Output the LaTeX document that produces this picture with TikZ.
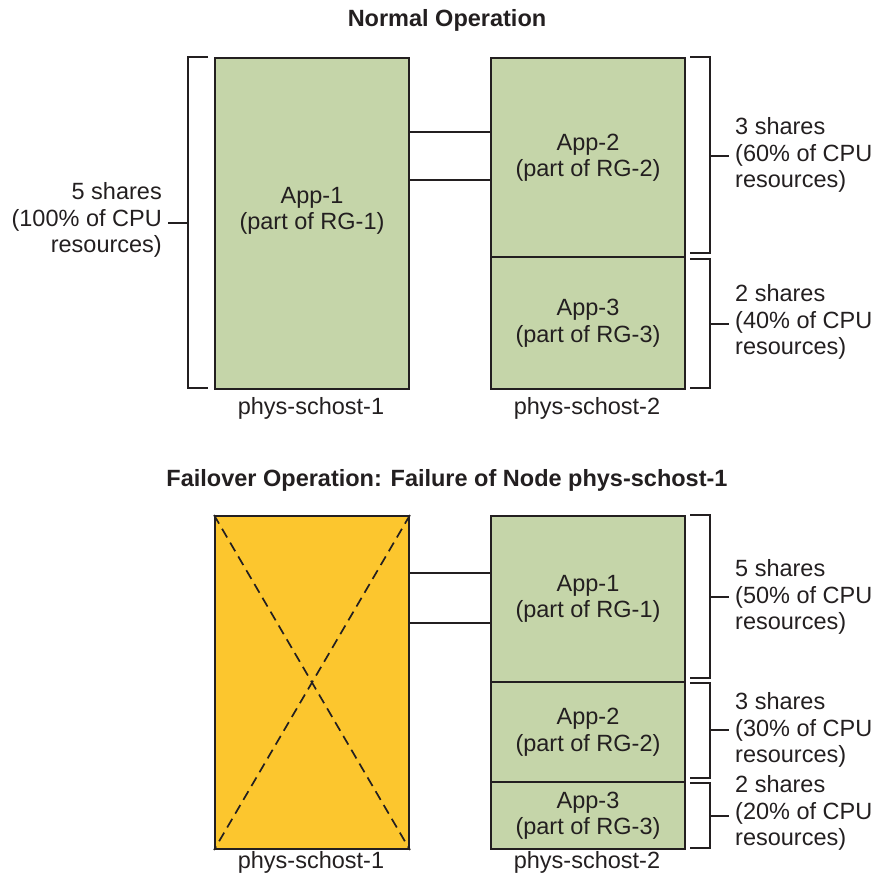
\documentclass[tikz,border=0pt]{standalone}
\usepackage{fontspec}
\setmainfont{Liberation Sans}
\definecolor{ink}{HTML}{231F20}
\definecolor{appgreen}{HTML}{C5D5A9}
\definecolor{failorange}{HTML}{FCC62E}
\begin{document}
\begin{tikzpicture}[x=1pt,y=-1pt,
  every node/.style={text=ink, font=\fontsize{23.5}{26.5}\selectfont},
  appbox/.style={draw=ink, line width=2pt, fill=appgreen, anchor=north west, inner sep=0pt, align=center, minimum width=194pt},
  failbox/.style={draw=ink, line width=2pt, fill=failorange, anchor=north west, inner sep=0pt, minimum width=194pt},
  hostlabel/.style={anchor=center},
  title/.style={font=\bfseries\fontsize{23.5}{26.5}\selectfont},
  brk/.style={draw=ink, line width=1.5pt},
  tick/.style={draw=ink, line width=1.5pt, shorten >=6pt},
  link/.style={draw=ink, line width=1.8pt},
  sharelabel/.style={align=left, anchor=west, inner sep=0pt},
  sharelabelL/.style={align=right, anchor=east, inner sep=0pt},
  cross/.style={draw=ink, line width=1.7pt, dash pattern=on 10pt off 6pt}
]
\useasboundingbox (0,0) rectangle (879,875);

% ---------- Normal operation ----------
\node[title] (t1) at (447,20) {Normal Operation};

\node[appbox, minimum height=331pt] (a1) at (214,57) {App-1\\(part of RG-1)\\[4pt]};
\node[appbox, minimum height=199pt] (a2) at (490,57) {App-2\\(part of RG-2)};
\node[appbox, minimum height=132pt] (a3) at (490,256) {App-3\\(part of RG-3)};

\node[hostlabel] (h1) at (311,408) {phys-schost-1};
\node[hostlabel] (h2) at (587,408) {phys-schost-2};

\draw[link] ([yshift=-75pt]a1.north east) -- ([yshift=-75pt]a2.north west);
\draw[link] ([yshift=-123pt]a1.north east) -- ([yshift=-123pt]a2.north west);

% left bracket
\coordinate (lbt) at (188,57);
\coordinate (lbb) at (188,388);
\coordinate (lbm) at (188,223);
\draw[brk] (208,57) -- (lbt) -- (lbb) -- (208,388);
\node[sharelabelL] (s1) at (162,220) {5 shares\\(100\% of CPU\\resources)};
\draw[tick] (lbm) -- (s1.east |- lbm);

% right brackets
\draw[brk] (690,57) -- (710,57) -- (710,253) -- (690,253);
\node[sharelabel] (s2) at (735,155) {3 shares\\(60\% of CPU\\resources)};
\draw[tick] (710,156) -- (s2.west |- 0,156);

\draw[brk] (690,259) -- (710,259) -- (710,388) -- (690,388);
\node[sharelabel] (s3) at (735,322) {2 shares\\(40\% of CPU\\resources)};
\draw[tick] (710,324) -- (s3.west |- 0,324);

% ---------- Failover operation ----------
\node[title] (t2) at (447,480) {Failover Operation: Failure of Node phys-schost-1};

\node[failbox, minimum height=333pt] (f1) at (214,515) {};
\draw[cross] (f1.north west) -- (f1.south east);
\draw[cross] (f1.north east) -- (f1.south west);

\node[appbox, minimum height=166pt] (b1) at (490,515) {App-1\\(part of RG-1)};
\node[appbox, minimum height=100pt] (b2) at (490,681) {App-2\\(part of RG-2)};
\node[appbox, minimum height=67pt] (b3) at (490,781) {App-3\\(part of RG-3)};

\node[hostlabel] (h3) at (311,862) {phys-schost-1};
\node[hostlabel] (h4) at (587,862) {phys-schost-2};

\draw[link] ([yshift=-58pt]f1.north east) -- ([yshift=-58pt]b1.north west);
\draw[link] ([yshift=-108pt]f1.north east) -- ([yshift=-108pt]b1.north west);

\draw[brk] (690,515) -- (710,515) -- (710,678) -- (690,678);
\node[sharelabel] (s4) at (735,597) {5 shares\\(50\% of CPU\\resources)};
\draw[tick] (710,597) -- (s4.west |- 0,597);

\draw[brk] (690,683) -- (710,683) -- (710,778) -- (690,778);
\node[sharelabel] (s5) at (735,730) {3 shares\\(30\% of CPU\\resources)};
\draw[tick] (710,730) -- (s5.west |- 0,730);

\draw[brk] (690,783) -- (710,783) -- (710,848) -- (690,848);
\node[sharelabel] (s6) at (735,813) {2 shares\\(20\% of CPU\\resources)};
\draw[tick] (710,816) -- (s6.west |- 0,816);
\end{tikzpicture}
\end{document}
